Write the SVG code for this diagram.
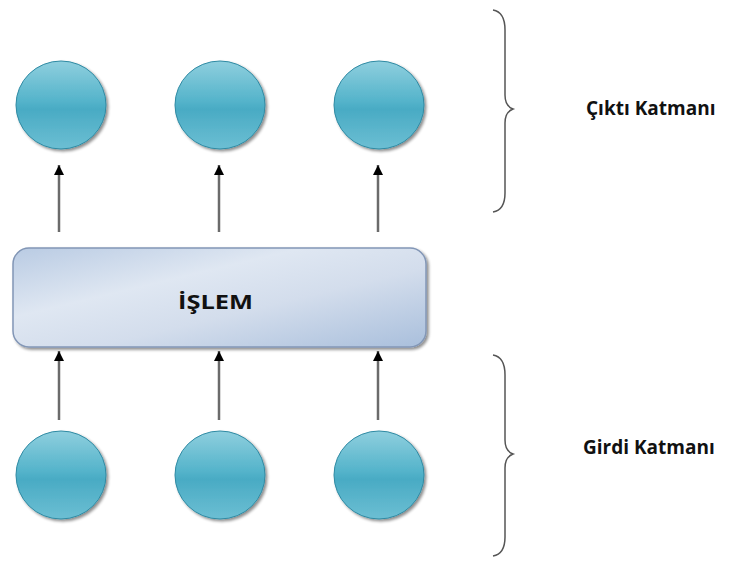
<svg xmlns="http://www.w3.org/2000/svg" width="752" height="561" viewBox="0 0 752 561">
  <defs>
    <linearGradient id="ballFill" x1="0" y1="0" x2="0" y2="1">
      <stop offset="0" stop-color="#8fcfde"/>
      <stop offset="0.45" stop-color="#55b4cb"/>
      <stop offset="0.55" stop-color="#49abc4"/>
      <stop offset="1" stop-color="#6cbfd3"/>
    </linearGradient>
    <linearGradient id="boxFill" x1="0" y1="0" x2="1" y2="1">
      <stop offset="0" stop-color="#b9cbe3"/>
      <stop offset="0.35" stop-color="#dfe7f2"/>
      <stop offset="0.6" stop-color="#d3ddec"/>
      <stop offset="1" stop-color="#a9bfdc"/>
    </linearGradient>
    <filter id="shade" x="-20%" y="-20%" width="140%" height="140%">
      <feGaussianBlur in="SourceAlpha" stdDeviation="1.5"/>
      <feOffset dx="2" dy="2" result="b"/>
      <feComponentTransfer><feFuncA type="linear" slope="0.45"/></feComponentTransfer>
      <feMerge><feMergeNode/><feMergeNode in="SourceGraphic"/></feMerge>
    </filter>
    <marker id="head" viewBox="0 0 10 10" refX="10" refY="5" markerWidth="10" markerHeight="10" markerUnits="userSpaceOnUse" orient="auto">
      <path d="M0,0 L10,5 L0,10 Z" fill="#000"/>
    </marker>
  </defs>
  <style>
    .ball { fill: url(#ballFill); stroke: #2f8aa3; stroke-width: 1; filter: url(#shade); }
    .box { fill: url(#boxFill); stroke: #8296b6; stroke-width: 1.5; filter: url(#shade); }
    .arrow { stroke: #6b6b6b; stroke-width: 2.5; fill: none; }
    .brace { stroke: #555; stroke-width: 1.5; fill: none; }
    .label { font-family: "Open Sans", "Liberation Sans", sans-serif; font-weight: bold; font-size: 19px; fill: #111; }
  </style>

  <rect width="752" height="561" fill="#fff"/>

  <!-- output layer -->
  <g id="out1"><ellipse class="ball" cx="61" cy="105" rx="45" ry="44"/></g>
  <g id="out2"><ellipse class="ball" cx="220" cy="105" rx="45" ry="44"/></g>
  <g id="out3"><ellipse class="ball" cx="379" cy="105" rx="45" ry="44"/></g>

  <!-- processing block -->
  <g id="process">
    <rect class="box" x="13" y="248" width="413" height="99" rx="16" ry="16"/>
    <text class="label" x="178" y="309" font-size="24" textLength="75" lengthAdjust="spacingAndGlyphs">İŞLEM</text>
  </g>

  <!-- input layer -->
  <g id="in1"><ellipse class="ball" cx="61" cy="475" rx="45" ry="44"/></g>
  <g id="in2"><ellipse class="ball" cx="220" cy="475" rx="45" ry="44"/></g>
  <g id="in3"><ellipse class="ball" cx="379" cy="475" rx="45" ry="44"/></g>

  <!-- layer brackets and labels -->
  <g id="outputLayer">
    <path class="brace" d="M493,10 Q505,12 505,30 L505,95 Q505,106 513,109 Q505,112 505,123 L505,193 Q505,210 493,212"/>
    <text class="label" x="586" y="115">Çıktı Katmanı</text>
  </g>
  <g id="inputLayer">
    <path class="brace" d="M493,355 Q505,357 505,375 L505,440 Q505,451 513,454 Q505,457 505,468 L505,537 Q505,554 493,556"/>
    <text class="label" x="583" y="454">Girdi Katmanı</text>
  </g>

  <!-- connectors -->
  <g id="connectors">
    <line class="arrow" x1="59" y1="232" x2="59" y2="165" marker-end="url(#head)"/>
    <line class="arrow" x1="219" y1="232" x2="219" y2="165" marker-end="url(#head)"/>
    <line class="arrow" x1="378" y1="232" x2="378" y2="165" marker-end="url(#head)"/>
    <line class="arrow" x1="59" y1="420" x2="59" y2="351" marker-end="url(#head)"/>
    <line class="arrow" x1="219" y1="420" x2="219" y2="351" marker-end="url(#head)"/>
    <line class="arrow" x1="378" y1="420" x2="378" y2="351" marker-end="url(#head)"/>
  </g>
</svg>
